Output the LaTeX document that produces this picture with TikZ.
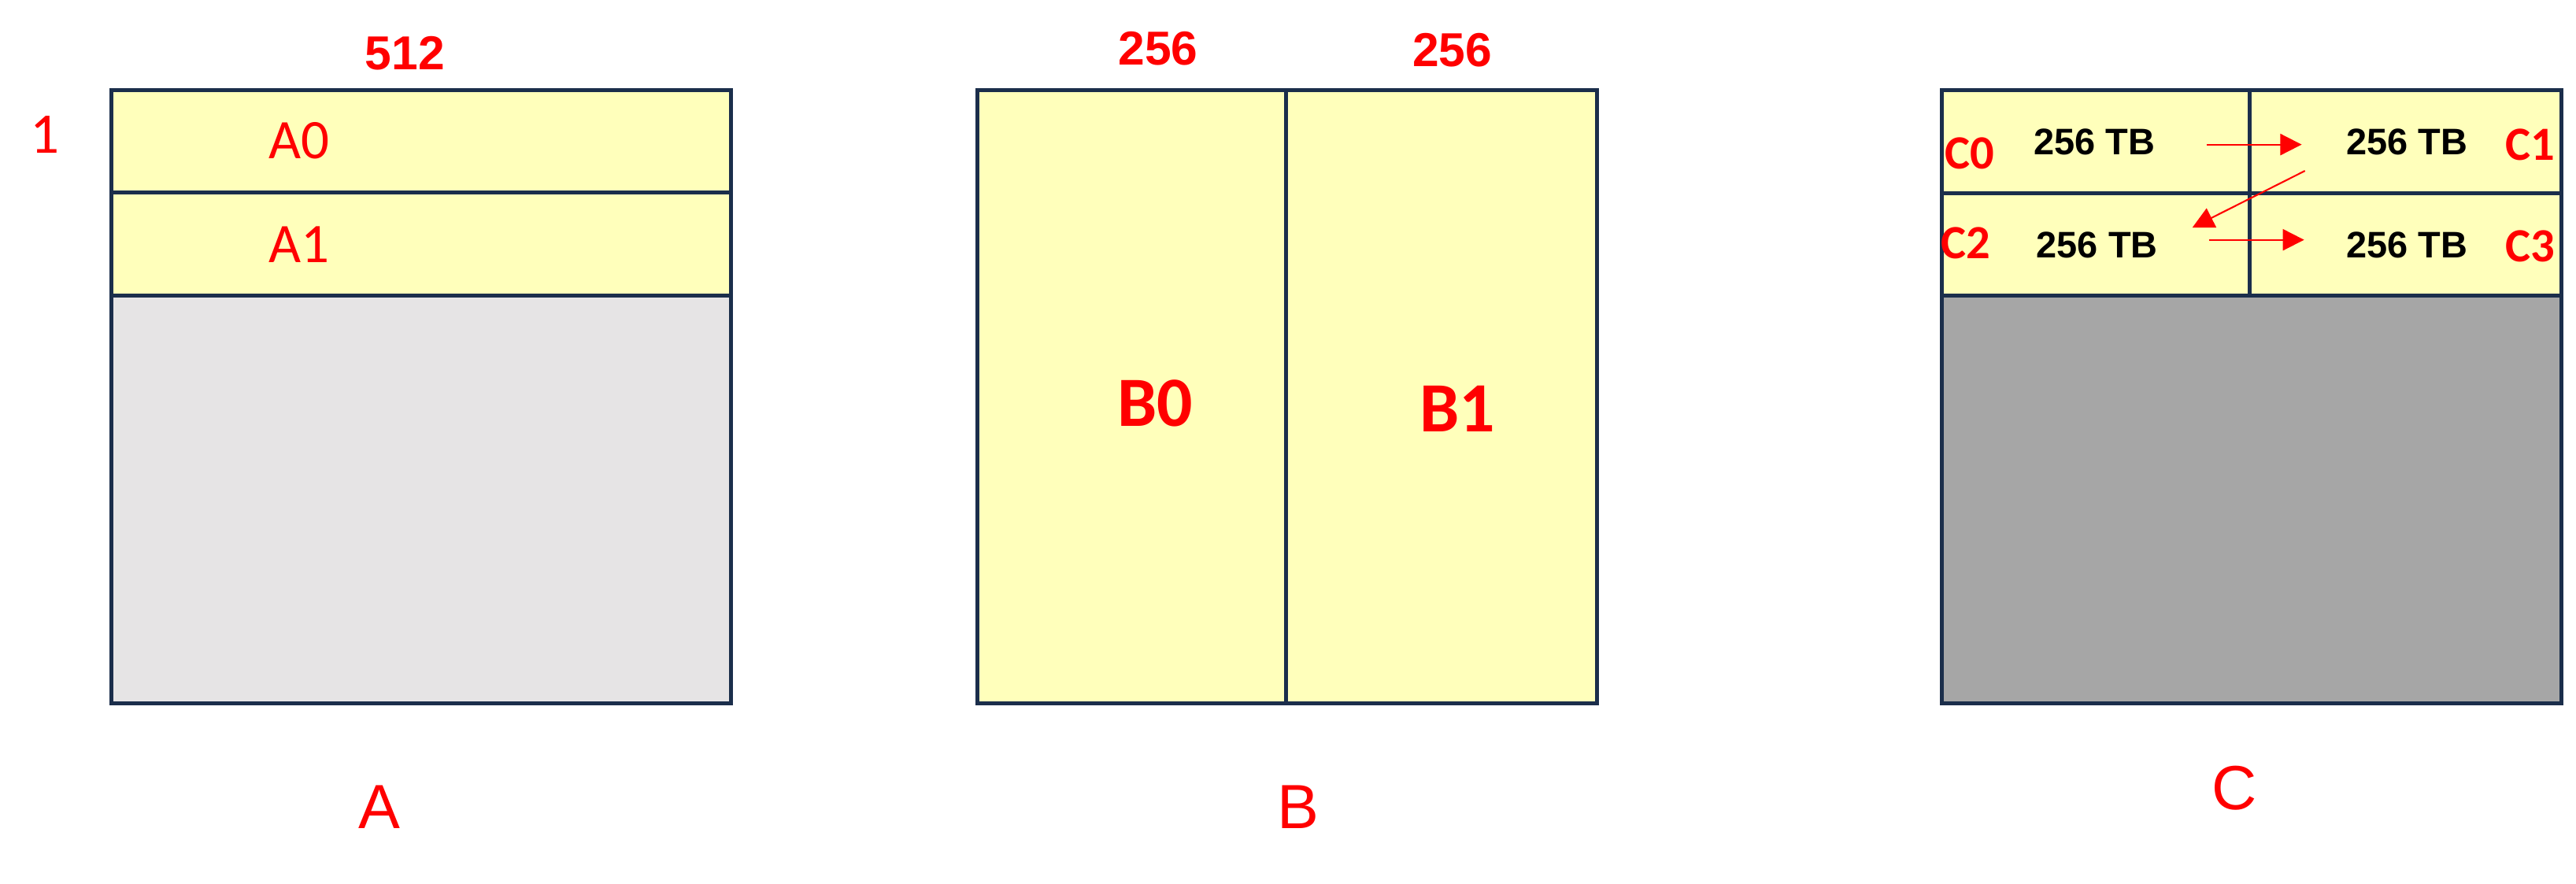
\documentclass[tikz,border=0pt]{standalone}
\usepackage{fontspec}
\setmainfont{Liberation Sans}
\newfontfamily\calfont{Carlito}
\usetikzlibrary{arrows.meta}
\definecolor{bord}{HTML}{1B2E4B}
\definecolor{yel}{HTML}{FFFFBB}
\definecolor{lgray}{HTML}{E6E4E5}
\definecolor{dgray}{HTML}{A6A6A6}
\definecolor{redl}{HTML}{FF0000}
\begin{document}
\begin{tikzpicture}[x=1pt,y=-1pt,
  cell/.style={draw=bord,line width=2.4pt},
  redlab/.style={text=redl,inner sep=0pt,anchor=center},
  blacklab/.style={text=black,inner sep=0pt,anchor=center},
  fnum/.style={font={\fontsize{29}{30}\selectfont\bfseries}},
  fone/.style={font={\calfont\fontsize{35}{36}\selectfont}},
  fa/.style={font={\calfont\fontsize{34}{35}\selectfont}},
  fc/.style={font={\calfont\fontsize{29}{30}\selectfont\bfseries}},
  ftb/.style={font={\fontsize{22.5}{24}\selectfont\bfseries}},
  fbig/.style={font={\calfont\fontsize{43}{44}\selectfont\bfseries}},
  fbottom/.style={font={\fontsize{38}{40}\selectfont}},
  redarrow/.style={draw=redl,line width=1pt,-{Triangle[length=13pt,width=13pt]}}
]
\useasboundingbox (0,0) rectangle (1568,538);
% ---------- A ----------
\fill[yel] (68,55) rectangle (445,180);
\fill[lgray] (68,180) rectangle (445,428);
\draw[cell] (68,55) rectangle (445,428);
\draw[cell] (68,117) -- (445,117);
\draw[cell] (68,180) -- (445,180);
\node[redlab,fnum] (n512) at (246.5,32.5) {512};
\node[redlab,fone] (n1) at (27.5,82) {1};
\node[redlab,fa] (a0) at (182,85.5) {A0};
\node[redlab,fa] (a1) at (182,149) {A1};
\node[redlab,fbottom] (la) at (231,491.5) {A};
% ---------- B ----------
\fill[yel] (595,55) rectangle (972,428);
\draw[cell] (595,55) rectangle (972,428);
\draw[cell] (783,55) -- (783,428);
\node[redlab,fnum] (b256a) at (705,29.5) {256};
\node[redlab,fnum] (b256b) at (884,30.5) {256};
\node[redlab,fbig] (b0) at (703,245.5) {B0};
\node[redlab,fbig] (b1) at (887,249) {B1};
\node[redlab,fbottom] (lb) at (790,491.5) {B};
% ---------- C ----------
\fill[yel] (1182,55) rectangle (1559,180);
\fill[dgray] (1182,180) rectangle (1559,428);
\draw[cell] (1182,55) rectangle (1559,428);
\draw[cell] (1182,117.5) -- (1559,117.5);
\draw[cell] (1182,180) -- (1559,180);
\draw[cell] (1369.5,55) -- (1369.5,180);
\node[redlab,fc] (c0) at (1199,93.5) {C0};
\node[redlab,fc] (c1) at (1540,88) {C1};
\node[redlab,fc] (c2) at (1196.5,148) {C2};
\node[redlab,fc] (c3) at (1540,150) {C3};
\node[blacklab,ftb] (t0) at (1275,86.5) {256 TB};
\node[blacklab,ftb] (t1) at (1465,86.5) {256 TB};
\node[blacklab,ftb] (t2) at (1276.5,149) {256 TB};
\node[blacklab,ftb] (t3) at (1465,149) {256 TB};
\node[redlab,fbottom] (lc) at (1360,480) {C};
\coordinate (r0s) at (1343,88);
\coordinate (r0e) at (1401,88);
\coordinate (r1s) at (1403,104);
\coordinate (r1e) at (1334.5,138.5);
\coordinate (r2s) at (1344.5,146);
\coordinate (r2e) at (1402.5,146);
\draw[redarrow] (r0s) -- (r0e);
\draw[redarrow] (r1s) -- (r1e);
\draw[redarrow] (r2s) -- (r2e);
\end{tikzpicture}
\end{document}
